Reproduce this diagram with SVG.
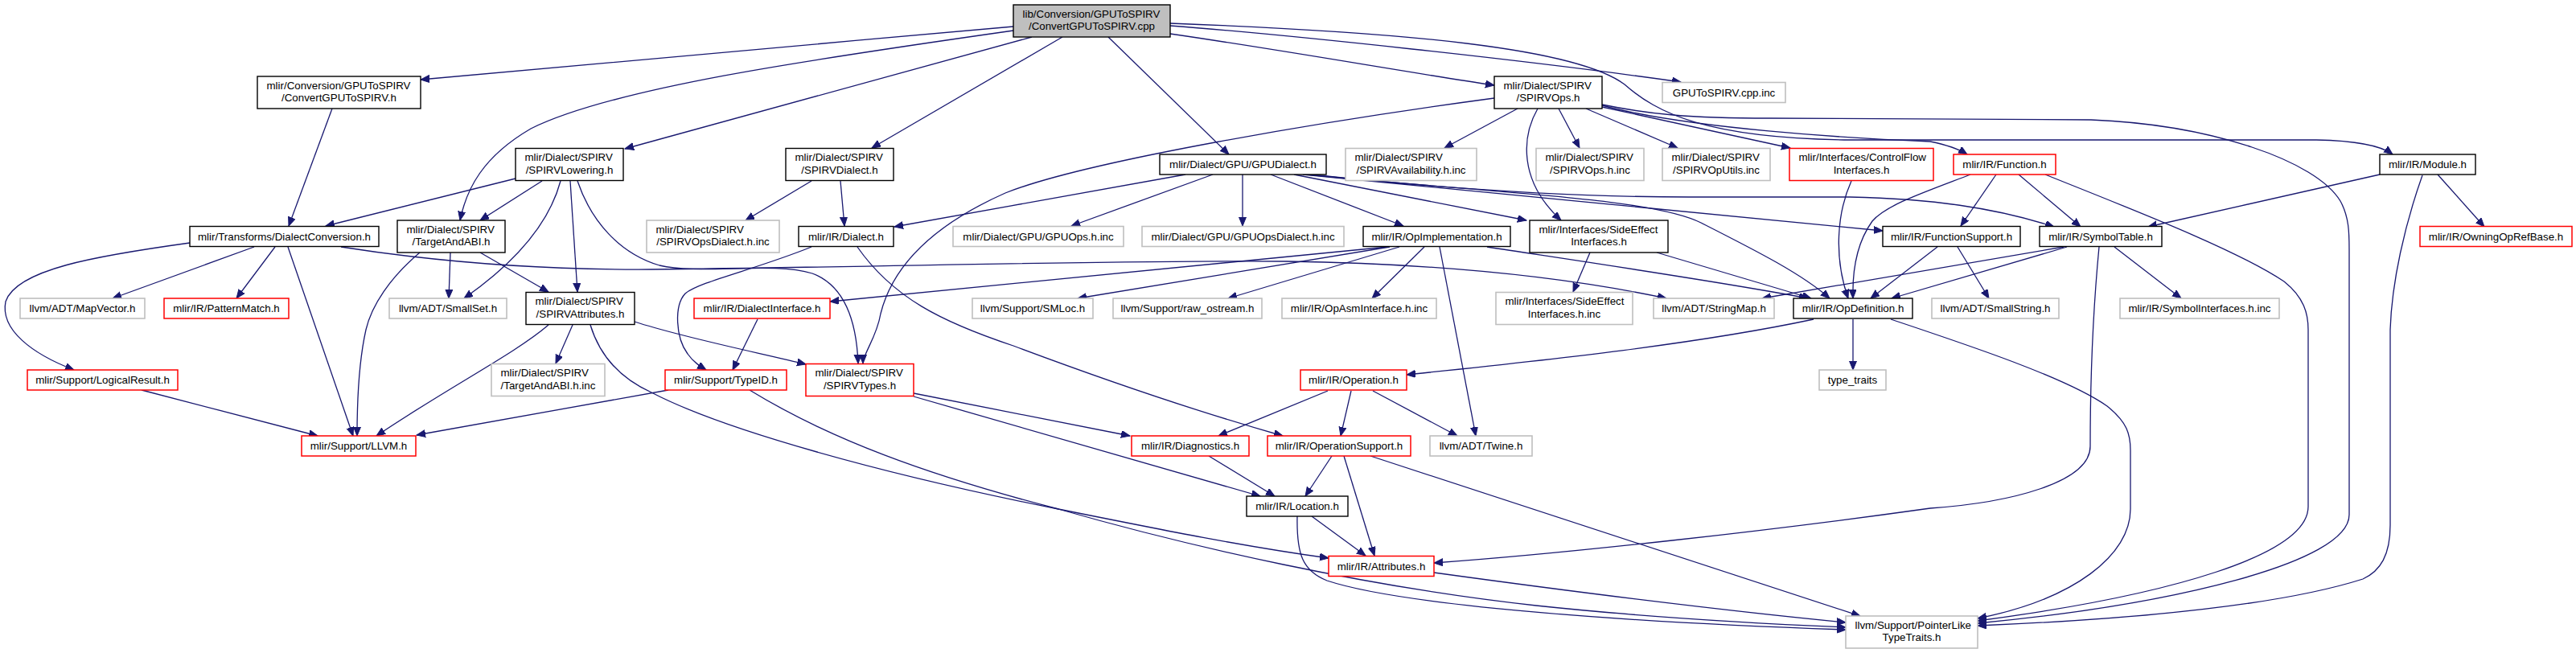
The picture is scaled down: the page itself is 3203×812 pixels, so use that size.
<svg xmlns="http://www.w3.org/2000/svg" width="3203" height="812" viewBox="0 0 3203 812">
<style>
.e{fill:none;stroke:#191970;stroke-width:1.3;marker-end:url(#ah)}
.node rect{fill:#fff;stroke:#000;stroke-width:1.4}
.node.gray rect{stroke:#bfbfbf;stroke-width:1.6}
.node.red rect{stroke:#ff0000;stroke-width:1.5}
.node.root rect{fill:#bfbfbf}
text{font-family:"Liberation Sans",Arial,Helvetica,sans-serif;font-size:13.33px;fill:#000}
.c{text-anchor:middle}
</style>
<defs>
<marker id="ah" markerWidth="12" markerHeight="10" refX="11" refY="4.5" orient="auto" markerUnits="userSpaceOnUse"><path d="M0,0 L11,4.5 L0,9 z" fill="#191970" stroke="#191970" stroke-width="1"/></marker>
</defs>
<rect x="0" y="0" width="3203" height="812" fill="#fff"/>
<g id="edges">
<path class="e" d="M1260,33 C1000,56 700,83 523,99"/>
<path class="e" d="M1260,38 C1000,75 760,110 660,160 C600,195 580,235 572,274"/>
<path class="e" d="M1283,46 L777,185"/>
<path class="e" d="M1321,46 L1084,184"/>
<path class="e" d="M1378,46 L1528,192"/>
<path class="e" d="M1455,42 C1600,63 1750,90 1858,106"/>
<path class="e" d="M1455,32 C1600,43 1900,75 2090,102"/>
<path class="e" d="M1455,29 C1750,40 1960,60 2020,105 C2060,140 2120,172 2300,174 L2880,174 C2935,175 2962,182 2975,192"/>
<path class="e" d="M413,135 L359,281"/>
<path class="e" d="M641,222 L405,281"/>
<path class="e" d="M674,225 L597,274"/>
<path class="e" d="M697,225 C685,270 650,320 577,371"/>
<path class="e" d="M709,225 L718,363"/>
<path class="e" d="M718,225 C735,275 770,315 820,330 C870,342 960,325 1010,340 C1050,355 1065,400 1067,452"/>
<path class="e" d="M236,302 C120,318 20,335 7,375 C0,410 40,440 92,460"/>
<path class="e" d="M316,307 L140,371"/>
<path class="e" d="M342,307 L294,371"/>
<path class="e" d="M358,307 L439,542"/>
<path class="e" d="M424,307 C520,322 650,336 810,335 C1100,332 1400,323 1600,325 C1800,328 1950,345 2072,371"/>
<path class="e" d="M560,314 L558,371"/>
<path class="e" d="M597,314 L682,363"/>
<path class="e" d="M522,314 C485,345 462,380 455,410 C446,450 444,500 444,542"/>
<path class="e" d="M1009,225 L927,274"/>
<path class="e" d="M1045,225 L1050,281"/>
<path class="e" d="M1474,217 L1112,282"/>
<path class="e" d="M1508,217 L1332,281"/>
<path class="e" d="M1545,217 L1545,281"/>
<path class="e" d="M1580,217 L1745,281"/>
<path class="e" d="M1609,217 L1898,274"/>
<path class="e" d="M1620,217 C1900,245 2150,268 2341,287"/>
<path class="e" d="M1625,217 C1850,240 2050,245 2115,277 C2180,310 2240,340 2275,371"/>
<path class="e" d="M1630,217 C1800,235 1950,245 2100,245 L2300,245 C2400,247 2480,258 2554,282"/>
<path class="e" d="M1858,122 C1650,150 1350,200 1250,240 C1160,280 1110,330 1095,390 C1090,420 1073,440 1073,452"/>
<path class="e" d="M1887,135 L1796,184"/>
<path class="e" d="M1912,135 C1892,170 1888,225 1941,274"/>
<path class="e" d="M1938,135 L1964,184"/>
<path class="e" d="M1972,135 L2086,184"/>
<path class="e" d="M1992,133 L2226,184"/>
<path class="e" d="M1992,131 C2100,160 2300,172 2400,176 C2420,180 2435,185 2446,192"/>
<path class="e" d="M1992,130 C2050,142 2100,147 2200,147 L2600,149 C2750,155 2880,200 2910,250 C2921,270 2921,290 2921,310 L2921,640 C2921,700 2700,752 2459,775"/>
<path class="e" d="M2302,225 C2284,265 2280,320 2298,371"/>
<path class="e" d="M2450,217 C2390,240 2345,255 2328,275 C2310,300 2303,335 2304,371"/>
<path class="e" d="M2482,217 L2438,281"/>
<path class="e" d="M2510,217 L2587,282"/>
<path class="e" d="M2543,217 C2650,260 2780,310 2840,350 C2865,370 2870,390 2870,410 L2870,630 C2870,690 2700,740 2459,772"/>
<path class="e" d="M2959,217 L2671,282"/>
<path class="e" d="M3031,217 L3089,282"/>
<path class="e" d="M3012,218 C2990,280 2974,350 2972,410 L2972,653 C2972,690 2960,710 2938,720 C2850,748 2700,768 2459,778"/>
<path class="e" d="M2409,307 L2326,371"/>
<path class="e" d="M2434,307 L2473,371"/>
<path class="e" d="M2566,307 L2191,371"/>
<path class="e" d="M2570,307 L2352,371"/>
<path class="e" d="M2629,307 L2712,371"/>
<path class="e" d="M2610,307 C2603,380 2599,470 2599,555 C2599,600 2500,625 2400,632 C2200,660 1950,688 1783,700"/>
<path class="e" d="M1977,314 L1956,363"/>
<path class="e" d="M2060,314 L2252,371"/>
<path class="e" d="M1725,307 L1032,375"/>
<path class="e" d="M1728,307 L1340,371"/>
<path class="e" d="M1740,307 L1527,371"/>
<path class="e" d="M1771,307 L1706,371"/>
<path class="e" d="M1790,307 L1835,542"/>
<path class="e" d="M1849,307 C2000,330 2150,352 2248,371"/>
<path class="e" d="M2304,397 L2304,460"/>
<path class="e" d="M2255,397 C2100,430 1900,450 1749,466"/>
<path class="e" d="M2351,397 C2450,430 2570,470 2620,505 C2645,525 2649,540 2649,560 L2649,633 C2649,690 2580,745 2459,769"/>
<path class="e" d="M1651,486 L1515,542"/>
<path class="e" d="M1680,486 L1667,542"/>
<path class="e" d="M1707,486 L1812,542"/>
<path class="e" d="M1656,567 L1623,617"/>
<path class="e" d="M1671,567 L1709,691"/>
<path class="e" d="M1704,567 L2313,766"/>
<path class="e" d="M1503,567 L1585,617"/>
<path class="e" d="M1136,489 L1405,542"/>
<path class="e" d="M1136,493 L1567,617"/>
<path class="e" d="M1009,307 C940,335 870,350 852,365 C838,380 840,420 855,440 C862,450 870,455 878,460"/>
<path class="e" d="M1066,307 C1110,370 1170,400 1260,430 C1380,475 1500,515 1595,542"/>
<path class="e" d="M942,397 L911,460"/>
<path class="e" d="M831,485 L518,541"/>
<path class="e" d="M932,485 C1030,545 1150,590 1316,633 C1480,680 1700,730 1910,753 C2050,768 2200,776 2295,780"/>
<path class="e" d="M682,404 C640,440 560,480 468,542"/>
<path class="e" d="M712,404 L691,452"/>
<path class="e" d="M789,400 C850,420 950,440 1002,453"/>
<path class="e" d="M734,404 C745,440 770,470 810,488 C900,535 1100,590 1316,633 C1450,660 1550,680 1652,694"/>
<path class="e" d="M176,485 L395,542"/>
<path class="e" d="M1631,642 L1698,691"/>
<path class="e" d="M1613,642 C1612,690 1620,710 1650,722 C1750,755 2050,775 2295,783"/>
<path class="e" d="M1783,712 C1950,735 2150,760 2295,774"/>
</g>
<g id="n_root" class="node root"><rect x="1260" y="6" width="195" height="40"/><text x="1271.5" y="21.8">lib/Conversion/GPUToSPIRV</text><text class="c" x="1357.5" y="37.4">/ConvertGPUToSPIRV.cpp</text></g>
<g id="n_convh" class="node"><rect x="320" y="95" width="203" height="40"/><text x="331.5" y="110.8">mlir/Conversion/GPUToSPIRV</text><text class="c" x="421.5" y="126.4">/ConvertGPUToSPIRV.h</text></g>
<g id="n_spirvops" class="node"><rect x="1858" y="95" width="134" height="40"/><text x="1869.5" y="110.8">mlir/Dialect/SPIRV</text><text class="c" x="1925" y="126.4">/SPIRVOps.h</text></g>
<g id="n_cppinc" class="node gray"><rect x="2067" y="102.5" width="153" height="25"/><text class="c" x="2143.5" y="119.5">GPUToSPIRV.cpp.inc</text></g>
<g id="n_lowering" class="node"><rect x="641" y="184.5" width="134" height="40"/><text x="652.5" y="200.3">mlir/Dialect/SPIRV</text><text class="c" x="708" y="215.9">/SPIRVLowering.h</text></g>
<g id="n_spirvdialect" class="node"><rect x="977" y="184.5" width="134" height="40"/><text x="988.5" y="200.3">mlir/Dialect/SPIRV</text><text class="c" x="1044" y="215.9">/SPIRVDialect.h</text></g>
<g id="n_gpudialect" class="node"><rect x="1442" y="192" width="207" height="25"/><text class="c" x="1545.5" y="209">mlir/Dialect/GPU/GPUDialect.h</text></g>
<g id="n_avail" class="node gray"><rect x="1673" y="184.5" width="163" height="40"/><text x="1684.5" y="200.3">mlir/Dialect/SPIRV</text><text class="c" x="1754.5" y="215.9">/SPIRVAvailability.h.inc</text></g>
<g id="n_opsinc" class="node gray"><rect x="1910" y="184.5" width="134" height="40"/><text x="1921.5" y="200.3">mlir/Dialect/SPIRV</text><text class="c" x="1977" y="215.9">/SPIRVOps.h.inc</text></g>
<g id="n_oputils" class="node gray"><rect x="2067" y="184.5" width="134" height="40"/><text x="2078.5" y="200.3">mlir/Dialect/SPIRV</text><text class="c" x="2134" y="215.9">/SPIRVOpUtils.inc</text></g>
<g id="n_cfi" class="node red"><rect x="2225" y="184.5" width="179" height="40"/><text x="2236.5" y="200.3">mlir/Interfaces/ControlFlow</text><text class="c" x="2314.5" y="215.9">Interfaces.h</text></g>
<g id="n_function" class="node red"><rect x="2429" y="192" width="127" height="25"/><text class="c" x="2492.5" y="209">mlir/IR/Function.h</text></g>
<g id="n_module" class="node"><rect x="2959" y="192" width="119" height="25"/><text class="c" x="3018.5" y="209">mlir/IR/Module.h</text></g>
<g id="n_dialconv" class="node"><rect x="236" y="281.5" width="235" height="25"/><text class="c" x="353.5" y="298.5">mlir/Transforms/DialectConversion.h</text></g>
<g id="n_targetabi" class="node"><rect x="494" y="274" width="134" height="40"/><text x="505.5" y="289.8">mlir/Dialect/SPIRV</text><text class="c" x="561" y="305.4">/TargetAndABI.h</text></g>
<g id="n_opsdialinc" class="node gray"><rect x="804" y="274" width="165" height="40"/><text x="815.5" y="289.8">mlir/Dialect/SPIRV</text><text class="c" x="886.5" y="305.4">/SPIRVOpsDialect.h.inc</text></g>
<g id="n_dialect" class="node"><rect x="993" y="281.5" width="118" height="25"/><text class="c" x="1052" y="298.5">mlir/IR/Dialect.h</text></g>
<g id="n_gpuopsinc" class="node gray"><rect x="1185" y="281.5" width="212" height="25"/><text class="c" x="1291" y="298.5">mlir/Dialect/GPU/GPUOps.h.inc</text></g>
<g id="n_gpuopsdialinc" class="node gray"><rect x="1420" y="281.5" width="251" height="25"/><text class="c" x="1545.5" y="298.5">mlir/Dialect/GPU/GPUOpsDialect.h.inc</text></g>
<g id="n_opimpl" class="node"><rect x="1695" y="281.5" width="183" height="25"/><text class="c" x="1786.5" y="298.5">mlir/IR/OpImplementation.h</text></g>
<g id="n_sideeff" class="node"><rect x="1902" y="274" width="172" height="40"/><text x="1913.5" y="289.8">mlir/Interfaces/SideEffect</text><text class="c" x="1988" y="305.4">Interfaces.h</text></g>
<g id="n_funcsupport" class="node"><rect x="2341" y="281.5" width="171" height="25"/><text class="c" x="2426.5" y="298.5">mlir/IR/FunctionSupport.h</text></g>
<g id="n_symtab" class="node"><rect x="2536" y="281.5" width="152" height="25"/><text class="c" x="2612" y="298.5">mlir/IR/SymbolTable.h</text></g>
<g id="n_owning" class="node red"><rect x="3009" y="281.5" width="189" height="25"/><text class="c" x="3103.5" y="298.5">mlir/IR/OwningOpRefBase.h</text></g>
<g id="n_mapvector" class="node gray"><rect x="25" y="371" width="155" height="25"/><text class="c" x="102.5" y="388">llvm/ADT/MapVector.h</text></g>
<g id="n_patmatch" class="node red"><rect x="204" y="371" width="155" height="25"/><text class="c" x="281.5" y="388">mlir/IR/PatternMatch.h</text></g>
<g id="n_smallset" class="node gray"><rect x="484" y="371" width="146" height="25"/><text class="c" x="557" y="388">llvm/ADT/SmallSet.h</text></g>
<g id="n_spirvattr" class="node"><rect x="654" y="363.5" width="135" height="40"/><text x="665.5" y="379.3">mlir/Dialect/SPIRV</text><text class="c" x="721.5" y="394.9">/SPIRVAttributes.h</text></g>
<g id="n_dialiface" class="node red"><rect x="863" y="371" width="169" height="25"/><text class="c" x="947.5" y="388">mlir/IR/DialectInterface.h</text></g>
<g id="n_smloc" class="node gray"><rect x="1209" y="371" width="150" height="25"/><text class="c" x="1284" y="388">llvm/Support/SMLoc.h</text></g>
<g id="n_rawos" class="node gray"><rect x="1384" y="371" width="185" height="25"/><text class="c" x="1476.5" y="388">llvm/Support/raw_ostream.h</text></g>
<g id="n_opasm" class="node gray"><rect x="1594" y="371" width="192" height="25"/><text class="c" x="1690" y="388">mlir/IR/OpAsmInterface.h.inc</text></g>
<g id="n_sideeffinc" class="node gray"><rect x="1860" y="363.5" width="170" height="40"/><text x="1871.5" y="379.3">mlir/Interfaces/SideEffect</text><text class="c" x="1945" y="394.9">Interfaces.h.inc</text></g>
<g id="n_stringmap" class="node gray"><rect x="2056" y="371" width="150" height="25"/><text class="c" x="2131" y="388">llvm/ADT/StringMap.h</text></g>
<g id="n_opdef" class="node"><rect x="2230" y="371" width="148" height="25"/><text class="c" x="2304" y="388">mlir/IR/OpDefinition.h</text></g>
<g id="n_smallstring" class="node gray"><rect x="2402" y="371" width="158" height="25"/><text class="c" x="2481" y="388">llvm/ADT/SmallString.h</text></g>
<g id="n_symiface" class="node gray"><rect x="2636" y="371" width="198" height="25"/><text class="c" x="2735" y="388">mlir/IR/SymbolInterfaces.h.inc</text></g>
<g id="n_logical" class="node red"><rect x="34" y="460" width="187" height="25"/><text class="c" x="127.5" y="477">mlir/Support/LogicalResult.h</text></g>
<g id="n_targetabiinc" class="node gray"><rect x="611" y="452.5" width="141" height="40"/><text x="622.5" y="468.3">mlir/Dialect/SPIRV</text><text class="c" x="681.5" y="483.9">/TargetAndABI.h.inc</text></g>
<g id="n_typeid" class="node red"><rect x="827" y="460" width="151" height="25"/><text class="c" x="902.5" y="477">mlir/Support/TypeID.h</text></g>
<g id="n_spirvtypes" class="node red"><rect x="1002" y="452.5" width="134" height="40"/><text x="1013.5" y="468.3">mlir/Dialect/SPIRV</text><text class="c" x="1069" y="483.9">/SPIRVTypes.h</text></g>
<g id="n_operation" class="node red"><rect x="1617" y="460" width="132" height="25"/><text class="c" x="1683" y="477">mlir/IR/Operation.h</text></g>
<g id="n_typetraits" class="node gray"><rect x="2262" y="460" width="83" height="25"/><text class="c" x="2303.5" y="477">type_traits</text></g>
<g id="n_llvm" class="node red"><rect x="375" y="542" width="142" height="25"/><text class="c" x="446" y="559">mlir/Support/LLVM.h</text></g>
<g id="n_diag" class="node red"><rect x="1407" y="542" width="146" height="25"/><text class="c" x="1480" y="559">mlir/IR/Diagnostics.h</text></g>
<g id="n_opsupport" class="node red"><rect x="1576" y="542" width="178" height="25"/><text class="c" x="1665" y="559">mlir/IR/OperationSupport.h</text></g>
<g id="n_twine" class="node gray"><rect x="1778" y="542" width="127" height="25"/><text class="c" x="1841.5" y="559">llvm/ADT/Twine.h</text></g>
<g id="n_location" class="node"><rect x="1550" y="617" width="126" height="25"/><text class="c" x="1613" y="634">mlir/IR/Location.h</text></g>
<g id="n_attributes" class="node red"><rect x="1652" y="691.5" width="131" height="25"/><text class="c" x="1717.5" y="708.5">mlir/IR/Attributes.h</text></g>
<g id="n_pointerlike" class="node gray"><rect x="2295" y="766" width="164" height="40"/><text x="2306.5" y="781.8">llvm/Support/PointerLike</text><text class="c" x="2377" y="797.4">TypeTraits.h</text></g>
</svg>
